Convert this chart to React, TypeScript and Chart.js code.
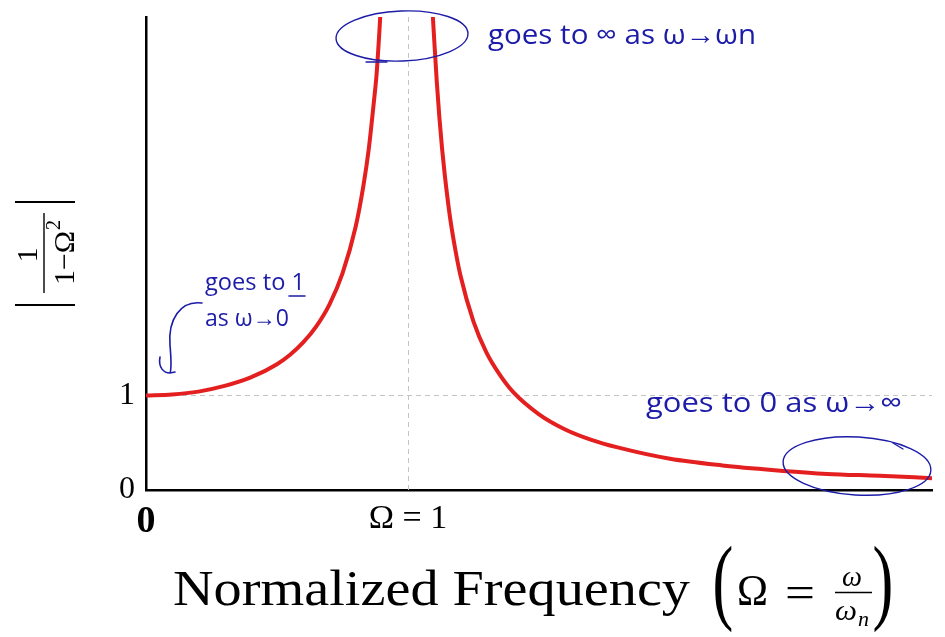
import { useEffect, useRef } from 'react';
import { Chart, registerables } from 'chart.js';

Chart.register(...registerables);

// Values: |1/(1-Ω²)| against Ω (clipped at 5)
const leftOmega = [0, 0.1, 0.2, 0.3, 0.4, 0.5, 0.55, 0.6, 0.65, 0.7, 0.75, 0.8, 0.83, 0.85, 0.87, 0.88, 0.89, 0.894];
const leftAmp = [1.0, 1.01, 1.04, 1.1, 1.19, 1.33, 1.43, 1.56, 1.73, 1.96, 2.29, 2.78, 3.22, 3.6, 4.11, 4.39, 4.81, 5.0];
const rightOmega = [1.095, 1.1, 1.11, 1.12, 1.13, 1.14, 1.16, 1.18, 1.2, 1.25, 1.3, 1.35, 1.4, 1.5, 1.6, 1.7, 1.8, 2.0, 2.2, 2.4, 2.6, 2.8, 3.0];
const rightAmp = [5.0, 4.76, 4.31, 3.93, 3.61, 3.34, 2.89, 2.55, 2.27, 1.78, 1.45, 1.22, 1.04, 0.8, 0.64, 0.53, 0.45, 0.33, 0.26, 0.21, 0.17, 0.15, 0.125];

const xTickValues = [0, 1];
const xTickLabels = ['0', 'Ω = 1'];
const yTickValues = [0, 1];
const yTickLabels = ['0', '1'];
const refLineX = [1];
const refLineY = [1];

const SERIF = "'Liberation Serif', 'DejaVu Serif', serif";
const HAND = "'Open Sans', 'Noto Sans', sans-serif";
const BLUE = '#1c1ca8';
const RED = '#e3201f';

function fitText(ctx: CanvasRenderingContext2D, text: string, x: number, y: number, w: number, font: string) {
  ctx.save();
  ctx.font = font;
  const m = ctx.measureText(text).width;
  ctx.translate(x, y);
  ctx.scale(w / m, 1);
  ctx.textAlign = 'left';
  ctx.textBaseline = 'alphabetic';
  ctx.fillText(text, 0, 0);
  ctx.restore();
}

const annotate = {
  id: 'annotate',
  beforeDatasetsDraw(chart: any) {
    const { ctx, chartArea: a, scales } = chart;
    const x = scales.x, y = scales.y;
    ctx.save();
    ctx.strokeStyle = '#c4c4c4';
    ctx.lineWidth = 1;
    ctx.setLineDash([5, 4]);
    ctx.beginPath();
    refLineX.forEach((v) => {
      const px = Math.round(x.getPixelForValue(v)) + 0.5;
      ctx.moveTo(px, a.bottom);
      ctx.lineTo(px, a.top);
    });
    refLineY.forEach((v) => {
      const py = Math.round(y.getPixelForValue(v)) + 0.5;
      ctx.moveTo(a.left, py);
      ctx.lineTo(a.right, py);
    });
    ctx.stroke();
    ctx.restore();
  },
  afterDraw(chart: any) {
    const { ctx } = chart;
    ctx.save();
    ctx.fillStyle = '#000';

    // ---- y axis title |1/(1-Ω²)| rotated ----
    ctx.save();
    ctx.translate(48, 253);
    ctx.rotate(-Math.PI / 2);
    ctx.strokeStyle = '#000';
    ctx.lineWidth = 2.2;
    ctx.beginPath();
    ctx.moveTo(-52, -33); ctx.lineTo(-52, 27);
    ctx.moveTo(51, -33); ctx.lineTo(51, 27);
    ctx.stroke();
    ctx.lineWidth = 1.4;
    ctx.beginPath();
    ctx.moveTo(-40, -4); ctx.lineTo(40, -4);
    ctx.stroke();
    ctx.font = `30px ${SERIF}`;
    ctx.textAlign = 'center';
    ctx.textBaseline = 'alphabetic';
    ctx.fillText('1', -2, -11);
    ctx.textAlign = 'left';
    ctx.font = `30px ${SERIF}`;
    const den = '1−Ω';
    const dw = ctx.measureText(den).width;
    ctx.font = `20px ${SERIF}`;
    const sw = ctx.measureText('2').width;
    const startX = -(dw + sw) / 2;
    ctx.font = `30px ${SERIF}`;
    ctx.fillText(den, startX, 26);
    ctx.font = `20px ${SERIF}`;
    ctx.fillText('2', startX + dw + 1, 12);
    ctx.restore();

    // ---- x axis title ----
    fitText(ctx, 'Normalized Frequency', 173, 605, 517, `50px ${SERIF}`);
    ctx.textBaseline = 'alphabetic';
    ctx.textAlign = 'center';
    ctx.save();
    ctx.font = `96px ${SERIF}`;
    ctx.translate(723, 612);
    ctx.scale(0.65, 1);
    ctx.fillText('(', 0, 0);
    ctx.restore();
    ctx.save();
    ctx.font = `96px ${SERIF}`;
    ctx.translate(883, 612);
    ctx.scale(0.65, 1);
    ctx.fillText(')', 0, 0);
    ctx.restore();
    fitText(ctx, 'Ω', 737, 605, 31, `45px ${SERIF}`);
    fitText(ctx, '=', 785, 607, 30, `45px ${SERIF}`);
    ctx.lineWidth = 1.3;
    ctx.strokeStyle = '#000';
    ctx.beginPath();
    ctx.moveTo(835, 592.5); ctx.lineTo(872, 592.5);
    ctx.stroke();
    fitText(ctx, 'ω', 842, 586, 20, `italic 30px ${SERIF}`);
    fitText(ctx, 'ω', 835, 620, 22, `italic 30px ${SERIF}`);
    fitText(ctx, 'n', 858, 626, 11, `italic 22px ${SERIF}`);

    // ---- handwritten notes ----
    ctx.fillStyle = BLUE;
    ctx.strokeStyle = BLUE;
    fitText(ctx, 'goes to ∞ as ω→ωn', 488, 44, 268, `28px ${HAND}`);
    fitText(ctx, 'goes to 1', 205, 290, 100, `24px ${HAND}`);
    fitText(ctx, 'as ω→0', 205, 326, 84, `24px ${HAND}`);
    fitText(ctx, 'goes to 0 as ω→∞', 646, 412, 256, `28px ${HAND}`);

    ctx.lineWidth = 1.6;
    ctx.lineCap = 'round';
    // underline under the "1"
    ctx.beginPath();
    ctx.moveTo(289, 296); ctx.lineTo(305, 296);
    ctx.stroke();
    // arrow
    ctx.beginPath();
    ctx.moveTo(202, 303);
    ctx.bezierCurveTo(180, 300, 168, 320, 170, 345);
    ctx.bezierCurveTo(171, 358, 172, 368, 170, 373);
    ctx.bezierCurveTo(164, 373, 158, 368, 160, 357);
    ctx.moveTo(170, 373);
    ctx.lineTo(175, 372);
    ctx.stroke();
    // ellipse near the top
    ctx.lineWidth = 1.4;
    ctx.beginPath();
    ctx.ellipse(402, 36, 66, 25, -0.04, 0, Math.PI * 2);
    ctx.stroke();
    ctx.beginPath();
    ctx.moveTo(366, 62); ctx.lineTo(387, 62);
    ctx.stroke();
    // ellipse bottom right
    ctx.beginPath();
    ctx.ellipse(857, 466, 74, 29, 0.06, 0, Math.PI * 2);
    ctx.stroke();
    ctx.beginPath();
    ctx.moveTo(893, 443); ctx.lineTo(903, 449);
    ctx.stroke();

    ctx.restore();
  },
};

export default function App() {
  const ref = useRef<HTMLCanvasElement | null>(null);
  useEffect(() => {
    if (!ref.current) return;
    const left = leftOmega.map((v, i) => ({ x: v, y: leftAmp[i] }));
    const right = rightOmega.map((v, i) => ({ x: v, y: rightAmp[i] }));
    const chart = new Chart(ref.current, {
      type: 'scatter',
      data: {
        datasets: [
          { data: left, showLine: true, borderColor: RED, borderWidth: 4, pointRadius: 0, cubicInterpolationMode: 'monotone', fill: false },
          { data: right, showLine: true, borderColor: RED, borderWidth: 4, pointRadius: 0, cubicInterpolationMode: 'monotone', fill: false },
        ],
      } as any,
      options: {
        responsive: false,
        animation: false,
        layout: { padding: { top: 17, right: 13, left: 0, bottom: 0 } },
        plugins: { legend: { display: false }, tooltip: { enabled: false } },
        scales: {
          x: {
            type: 'linear',
            min: 0,
            max: 3,
            afterBuildTicks: (s: any) => { s.ticks = xTickValues.map((v) => ({ value: v })); },
            afterFit: (s: any) => { s.height = 147; s.paddingLeft = 0; s.paddingRight = 0; },
            grid: { display: false, drawTicks: false },
            border: { display: true, color: '#000', width: 2.5 },
            ticks: {
              padding: 9,
              color: '#000',
              autoSkip: false,
              maxRotation: 0,
              font: (c: any) => (c.tick && c.tick.value === 0
                ? { family: SERIF, size: 38, weight: 'bold' }
                : { family: SERIF, size: 34 }),
              callback: (v: any) => xTickLabels[xTickValues.indexOf(Number(v))] ?? '',
            },
          },
          y: {
            type: 'linear',
            min: 0,
            max: 5,
            afterBuildTicks: (s: any) => { s.ticks = yTickValues.map((v) => ({ value: v })); },
            afterFit: (s: any) => { s.width = 146; s.paddingTop = 0; s.paddingBottom = 0; },
            grid: { display: false, drawTicks: false },
            border: { display: true, color: '#000', width: 2.5 },
            ticks: {
              padding: 11,
              color: '#000',
              autoSkip: false,
              font: { family: SERIF, size: 32 },
              callback: (v: any) => yTickLabels[yTickValues.indexOf(Number(v))] ?? '',
            },
          },
        },
      } as any,
      plugins: [annotate],
    });
    return () => chart.destroy();
  }, []);
  return (
    <div style={{ position: 'absolute', left: 0, top: 0, width: 945, height: 637, background: '#fff' }}>
      <canvas ref={ref} width={945} height={637} style={{ display: 'block' }} />
    </div>
  );
}
